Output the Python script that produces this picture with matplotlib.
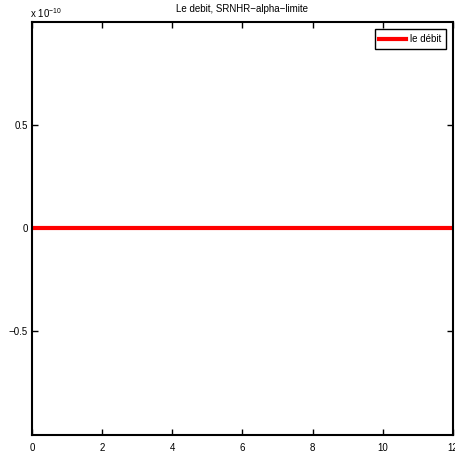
import numpy as np
import matplotlib.pyplot as plt

plt.rcParams['font.family'] = ['Liberation Sans', 'DejaVu Sans']

# donnees (le debit est nul partout)
t = [0, 1, 2, 3, 4, 5, 6, 7, 8, 9, 10, 11, 12]
debit = [0, 0, 0, 0, 0, 0, 0, 0, 0, 0, 0, 0, 0]
xticks = [0, 2, 4, 6, 8, 10, 12]
yticks = [-0.5e-10, 0, 0.5e-10]
ylabels = ['\u22120.5', '0', '0.5']

fig = plt.figure(figsize=(4.56, 4.55), dpi=100)
ax = fig.add_axes([32/456, 1 - 434.5/455, (453 - 32)/456, (434.5 - 22)/455])

ax.plot(t, debit, color='red', linewidth=3, label='le d\u00e9bit')

ax.set_xlim(0, 12)
ax.set_ylim(-1e-10, 1e-10)
ax.set_xticks(xticks)
ax.set_xticklabels([str(v) for v in xticks])
ax.set_yticks(yticks)
ax.set_yticklabels(ylabels)
ax.tick_params(direction='in', top=True, right=True, length=4, width=1,
               labelsize=7)
ax.tick_params(axis='y', pad=3)
ax.tick_params(axis='x', pad=6)
for s in ax.spines.values():
    s.set_linewidth(1.5)

ax.set_title('Le debit, SRNHR\u2212alpha\u2212limite', fontsize=7, pad=7)
fig.text(30/456, 1 - 13/455, 'x 10$^{\\mathregular{-10}}$', fontsize=7, ha='left', va='center')

leg = ax.legend(loc='upper right', fontsize=7, fancybox=False, framealpha=1,
                edgecolor='black', handlelength=2.7, borderaxespad=0.75,
                handletextpad=0.4, borderpad=0.5)
leg.get_frame().set_linewidth(1)

fig.savefig('out.png', dpi=100)
